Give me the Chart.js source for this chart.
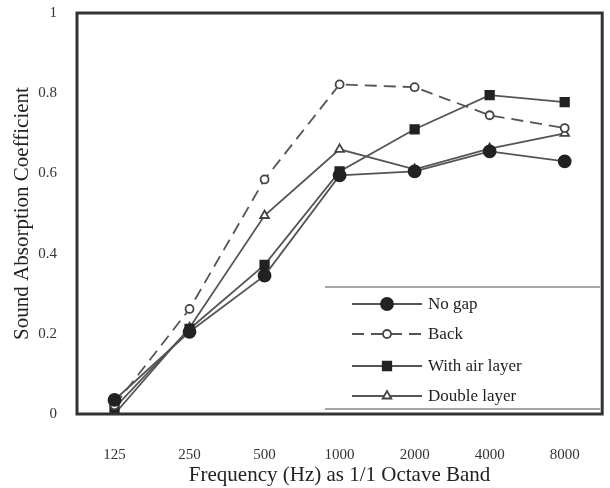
<!DOCTYPE html>
<html>
<head>
<meta charset="utf-8">
<script src="https://cdn.jsdelivr.net/npm/chart.js@4"></script>
<style>
  html, body { margin: 0; padding: 0; background: #fff; }
  #wrap { width: 610px; height: 488px; }
</style>
</head>
<body>
<div id="wrap"><canvas id="absorption"></canvas></div>
<script>
const bands = ['125', '250', '500', '1000', '2000', '4000', '8000'];
const noGap = [0.035, 0.205, 0.345, 0.595, 0.605, 0.655, 0.630];
const back = [0.022, 0.262, 0.585, 0.822, 0.815, 0.745, 0.713];
const airLayer = [0.015, 0.212, 0.372, 0.605, 0.710, 0.795, 0.778];
const doubleLayer = [0.0, 0.215, 0.495, 0.660, 0.610, 0.662, 0.700];
const yTicks = [0, 0.2, 0.4, 0.6, 0.8, 1];

const SERIF = '"Liberation Serif", "DejaVu Serif", serif';
const LINE = '#555';
const MARK = '#222';

// frame round the plot plus the boxed legend in the lower right
const framePlugin = {
    id: 'frame',
    afterDraw(chart) {
        const ctx = chart.ctx;
        const a = chart.chartArea;
        ctx.save();
        ctx.strokeStyle = '#333';
        ctx.lineWidth = 3;
        ctx.strokeRect(a.left, a.top, a.right - a.left, a.bottom - a.top);

        // legend rules
        ctx.strokeStyle = '#8a8a8a';
        ctx.lineWidth = 1.5;
        ctx.beginPath();
        ctx.moveTo(325, 287); ctx.lineTo(a.right - 2, 287);
        ctx.moveTo(325, 409); ctx.lineTo(a.right - 2, 409);
        ctx.stroke();

        const rows = [304, 334, 366, 396];
        chart.data.datasets.forEach((ds, i) => {
            const y = rows[i];
            ctx.strokeStyle = ds.borderColor;
            ctx.lineWidth = ds.borderWidth;
            ctx.setLineDash(ds.borderDash || []);
            ctx.beginPath();
            ctx.moveTo(352, y); ctx.lineTo(422, y);
            ctx.stroke();
            ctx.setLineDash([]);
            ctx.fillStyle = ds.pointBackgroundColor;
            ctx.strokeStyle = ds.pointBorderColor;
            ctx.lineWidth = ds.pointBorderWidth;
            Chart.helpers.drawPoint(ctx, {
                pointStyle: ds.pointStyle,
                radius: ds.pointRadius,
                borderWidth: ds.pointBorderWidth
            }, 387, y);
            ctx.fillStyle = '#222';
            ctx.font = '17px ' + SERIF;
            ctx.textAlign = 'left';
            ctx.textBaseline = 'middle';
            ctx.fillText(ds.label, 428, y + 1);
        });
        ctx.restore();
    }
};

function series(label, data, style, opts) {
    return Object.assign({
        label: label,
        data: data,
        borderColor: LINE,
        borderWidth: 1.8,
        pointStyle: style,
        pointRadius: 6,
        pointBorderWidth: 1.8,
        pointBorderColor: MARK,
        pointBackgroundColor: MARK,
        tension: 0,
        fill: false
    }, opts || {});
}

new Chart(document.getElementById('absorption').getContext('2d'), {
    type: 'line',
    data: {
        labels: bands,
        datasets: [
            series('No gap', noGap, 'circle'),
            series('Back', back, 'circle', {
                borderDash: [12, 7], pointRadius: 4, pointBackgroundColor: '#fff', pointBorderColor: '#444'
            }),
            series('With air layer', airLayer, 'rect', { pointRadius: 6 }),
            series('Double layer', doubleLayer, 'triangle', {
                pointRadius: 5, pointBackgroundColor: '#fff', pointBorderColor: '#444'
            })
        ]
    },
    options: {
        responsive: true,
        maintainAspectRatio: false,
        animation: false,
        layout: { padding: { top: 13, right: 4, left: 0, bottom: 0 } },
        plugins: {
            legend: { display: false },
            tooltip: { enabled: false }
        },
        scales: {
            x: {
                offset: true,
                grid: { display: false },
                border: { display: false },
                ticks: {
                    color: '#333',
                    padding: 24,
                    font: { family: SERIF, size: 15 },
                    maxRotation: 0
                },
                title: {
                    display: true,
                    text: 'Frequency (Hz) as 1/1 Octave Band',
                    color: '#222',
                    font: { family: SERIF, size: 21 },
                    padding: { top: 0, bottom: 0 }
                },
                afterFit(scale) {
                    scale.height = 74;
                    scale.paddingLeft = 0;
                    scale.paddingRight = 0;
                }
            },
            y: {
                min: 0,
                max: 1,
                grid: { display: false },
                border: { display: false },
                afterBuildTicks(scale) { scale.ticks = yTicks.map(v => ({ value: v })); },
                ticks: {
                    color: '#333',
                    padding: 12,
                    font: { family: SERIF, size: 15 },
                    callback: v => String(v)
                },
                title: {
                    display: true,
                    text: 'Sound Absorption Coefficient',
                    color: '#222',
                    font: { family: SERIF, size: 21 },
                    padding: { top: 10, bottom: 0 }
                },
                afterFit(scale) {
                    scale.width = 77;
                    scale.paddingTop = 0;
                    scale.paddingBottom = 0;
                }
            }
        }
    },
    plugins: [framePlugin]
});
</script>
</body>
</html>
